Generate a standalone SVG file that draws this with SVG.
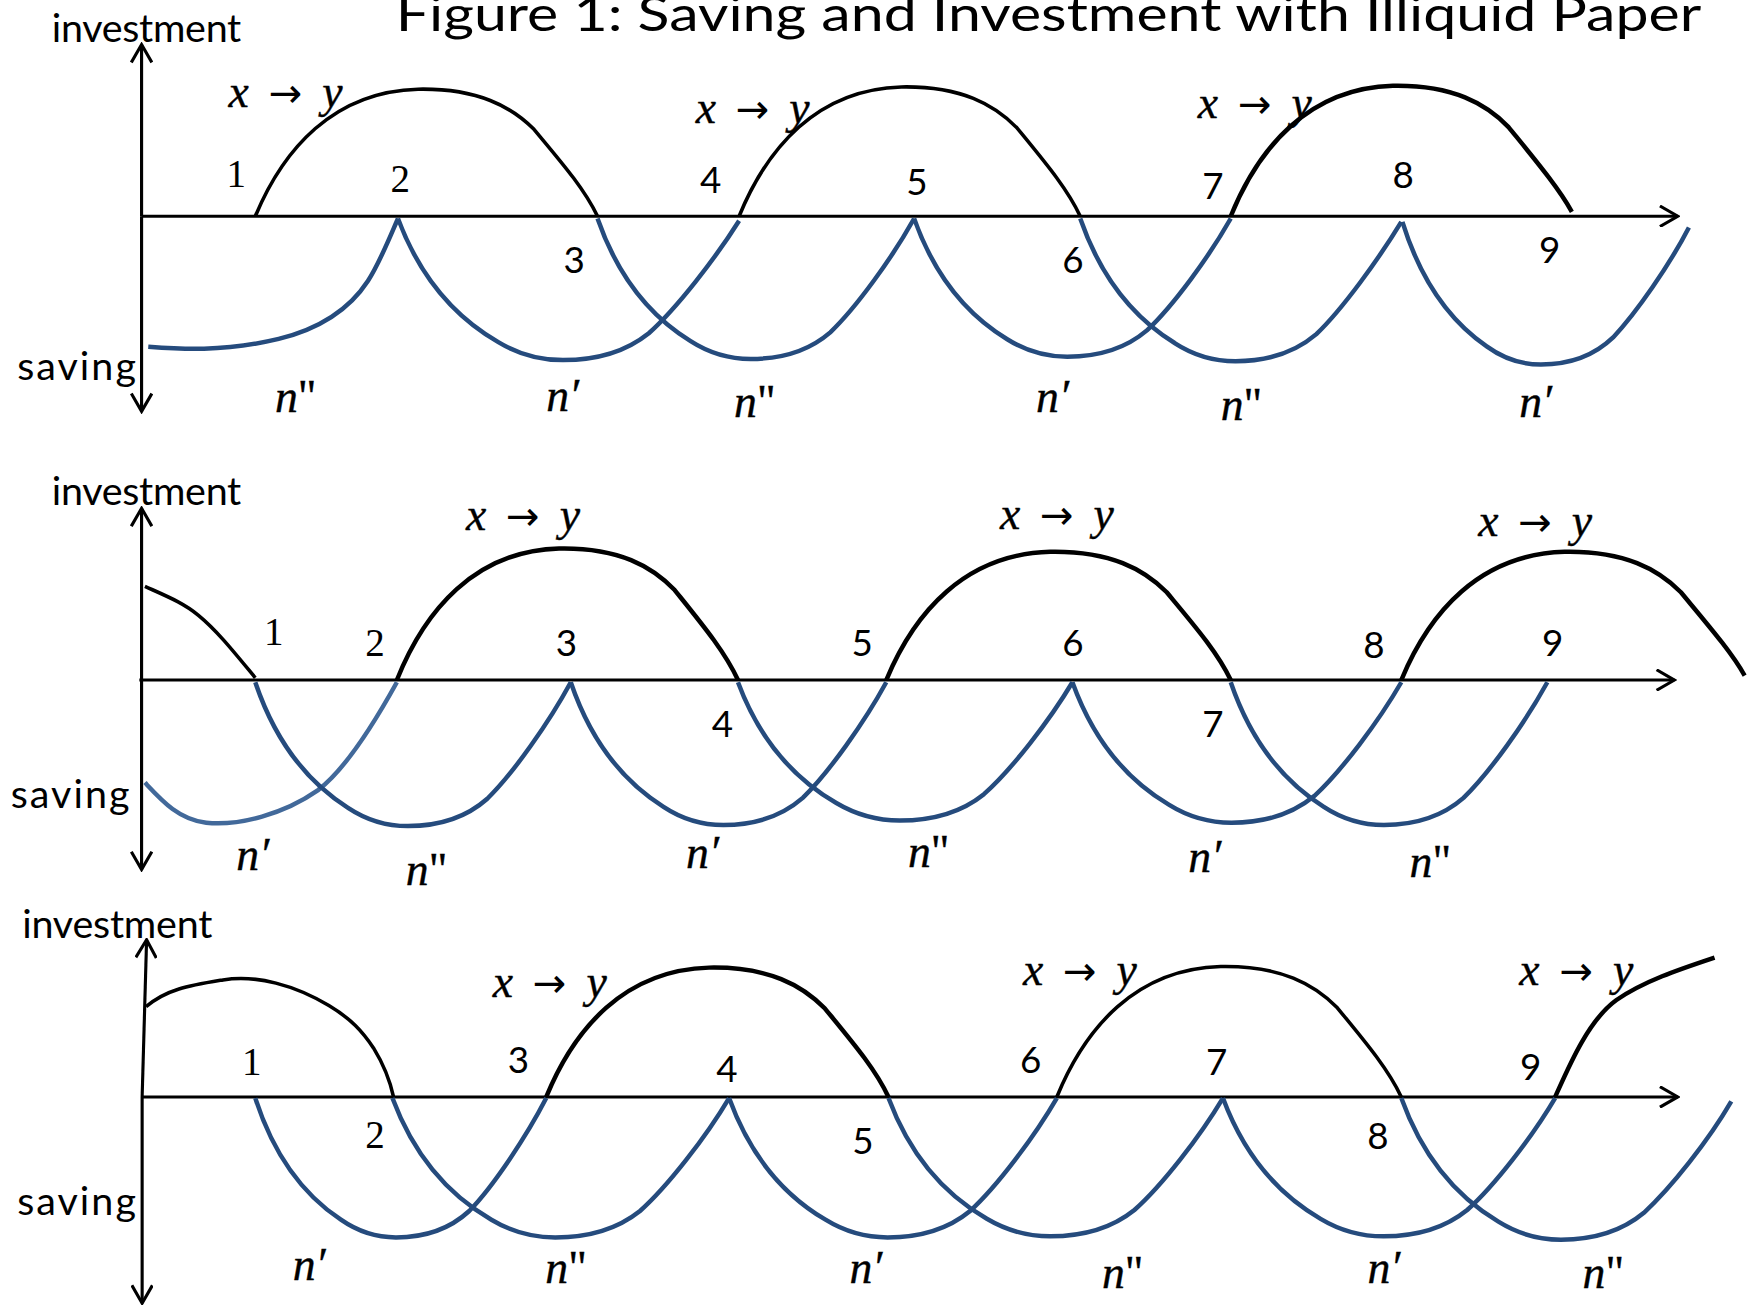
<svg xmlns="http://www.w3.org/2000/svg" width="1748" height="1311" viewBox="0 0 1748 1311">
<defs>
<style>
.ax{fill:none;stroke:#000;stroke-width:2.8}
.inv{fill:none;stroke:#000;stroke-width:3.2}
.thick{stroke-width:4}
.sav{fill:none;stroke:#254b7d;stroke-width:4}
.light{stroke:#42699a}
.lbl{font-family:Lato,"Liberation Sans",sans-serif;font-size:35.4px;fill:#000}
.title{font-family:Lato,"Liberation Sans",sans-serif;font-size:44px;fill:#000}
.num{font-family:Lato,"Liberation Sans",sans-serif;font-size:33px;text-anchor:middle;fill:#000}
.nums{font-family:"Liberation Serif",serif;font-size:35px;text-anchor:middle;fill:#000}
.math{font-family:"Liberation Serif","DejaVu Serif",serif;font-style:italic;font-size:41px;fill:#000;stroke:#000;stroke-width:0.35}
.up{font-style:normal}
.arr{font-family:"DejaVu Sans",sans-serif;font-style:normal;font-size:36px;stroke-width:0}
</style>
<marker id="oa" viewBox="0 0 20 20" refX="18" refY="10" markerWidth="20" markerHeight="20" markerUnits="userSpaceOnUse" orient="auto">
<path d="M2,0.8 L18,10 L2,19.2" fill="none" stroke="#000" stroke-width="2.8"/>
</marker>
</defs>
<rect width="1748" height="1311" fill="#fff"/>
<g transform="scale(1.114796)">
<text id="title" class="title" x="355" y="28" textLength="1171" lengthAdjust="spacingAndGlyphs">Figure 1: Saving and Investment with Illiquid Paper</text>

<!-- Panel 1 -->
<g id="panel1">
<g id="p1-axes">
<line class="ax" x1="127" y1="194" x2="127" y2="40" marker-end="url(#oa)"/>
<line class="ax" x1="127" y1="194" x2="127" y2="369" marker-end="url(#oa)"/>
<line class="ax" x1="127" y1="194" x2="1505" y2="194" marker-end="url(#oa)"/>
</g>
<g id="p1-curves">
<path class="sav" d="M133,311 C160,313 200,316 250,304 C290,294 315,275 330,252 C340,237 350,212 357,196"/>
<path class="sav" d="M357,196 C375,244.4 405,282.7 447,306.9 C467,318.9 487,323 505,323 C537,323 562,315 582,298.9 C607,276.6 642,231.3 663,198"/>
<path class="sav" d="M536,196 C552.7,244 580.6,282.1 619.5,306 C638.1,318 656.6,322 673.4,322 C703,322 726.3,314.1 744.8,298.1 C768,276 800.5,231 820,196"/>
<path class="sav" d="M820,196 C836.7,243.2 864.6,280.7 903.5,304.3 C922.1,316 940.6,320 957.4,320 C987,320 1010.3,312.2 1028.8,296.4 C1052,274.7 1084.5,230.5 1104,196"/>
<path class="sav" d="M969,196 C985.9,244.8 1014.2,283.4 1053.7,307.7 C1072.5,319.9 1091.3,324 1108.3,324 C1138.4,324 1161.9,315.9 1180.8,299.7 C1204.3,277.3 1237.2,231.6 1257,199"/>
<path class="sav" d="M1258,199 C1273.1,247.8 1298.3,286.4 1333.6,310.7 C1350.4,322.9 1367.2,327 1382.3,327 C1409.2,327 1430.2,318.9 1447,302.7 C1468,280.3 1497.4,238 1515,204"/>
<path class="inv" d="M229,194 C254,134 299,82 375,80 C429,79 459,96 479,116 C504,146 524,169 536,194"/>
<path class="inv" d="M663,194 C687.9,133 732.8,80.1 808.5,78 C862.4,77 892.3,94.2 912.2,114.7 C937.1,145.2 957,168.6 969,194"/>
<path class="inv thick" d="M1104,194 C1128.9,132.5 1173.8,79.1 1249.5,77 C1303.4,76 1333.3,93.4 1353.2,114 C1378.1,144.7 1398,168.4 1410,190"/>
</g>
<g id="p1-labels">
<text class="lbl" x="46.4" y="37.4" textLength="170">investment</text>
<text class="lbl" x="15.4" y="340.9" textLength="106.5">saving</text>
<text class="math" x="205" y="96.3">x<tspan class="arr" x="241">→</tspan><tspan x="289">y</tspan></text>
<text class="math" x="624" y="110.6">x<tspan class="arr" x="660">→</tspan><tspan x="708">y</tspan></text>
<text class="math" x="1074.5" y="106">x<tspan class="arr" x="1110.5">→</tspan><tspan x="1158.5">y</tspan></text>
<text class="nums" x="212" y="168">1</text>
<text class="nums" x="359" y="172">2</text>
<text class="num" x="515" y="245">3</text>
<text class="num" x="637.5" y="173.5">4</text>
<text class="num" x="822.5" y="175">5</text>
<text class="num" x="962.5" y="244.6">6</text>
<text class="num" x="1088" y="178.8">7</text>
<text class="num" x="1258.7" y="169">8</text>
<text class="num" x="1390" y="236">9</text>
<text class="math" x="246.7" y="369.3">n<tspan class="up">"</tspan></text>
<text class="math" x="490" y="369">n′</text>
<text class="math" x="658.5" y="373.8">n<tspan class="up">"</tspan></text>
<text class="math" x="929.4" y="369.3">n′</text>
<text class="math" x="1095" y="376.7">n<tspan class="up">"</tspan></text>
<text class="math" x="1362.8" y="373.8">n′</text>
</g>
</g>

<!-- Panel 2 -->
<g id="panel2">
<g id="p2-axes">
<line class="ax" x1="127" y1="610" x2="127" y2="456" marker-end="url(#oa)"/>
<line class="ax" x1="127" y1="610" x2="127" y2="780" marker-end="url(#oa)"/>
<line class="ax" x1="125" y1="610" x2="1502" y2="610" marker-end="url(#oa)"/>
</g>
<g id="p2-curves">
<path class="sav light" d="M130,702 C145,718 160,735 185,738 C215,741 255,730 285,709 C310,690 335,650 356,612"/>
<path class="sav" d="M229,612 C245.6,661.1 273.4,700.1 312.2,724.6 C330.7,736.9 349.2,741 365.9,741 C395.5,741 418.6,732.9 437.1,716.5 C460.2,693.9 492.6,647.9 512,612"/>
<path class="sav" d="M512,612 C528.6,660.8 556.4,699.4 595.2,723.7 C613.7,735.9 632.2,740 648.9,740 C678.5,740 701.6,731.9 720.1,715.7 C743.2,693.3 775.6,647.6 795,612"/>
<path class="sav" d="M662,612 C679.6,659.2 709.1,696.7 750.2,720.3 C769.9,732 789.4,736 807.1,736 C838.5,736 863,728.2 882.6,712.4 C907.1,690.7 941.4,646.5 962,612"/>
<path class="sav" d="M962,612 C979.3,660 1008.3,698.1 1048.8,722 C1068.1,734 1087.3,738 1104.7,738 C1135.5,738 1159.6,730.1 1178.9,714.1 C1203,692 1236.8,647 1257,612"/>
<path class="sav" d="M1104,612 C1120.7,660.8 1148.6,699.4 1187.5,723.7 C1206.1,735.9 1224.6,740 1241.4,740 C1271,740 1294.3,731.9 1312.8,715.7 C1336,693.3 1368.5,647.6 1388,612"/>
<path class="inv" d="M130,526 C150,535 165,541 178,552 C195,566 210,585 229,608"/>
<path class="inv thick" d="M356,610 C380.9,547.9 425.8,494.1 501.5,492 C555.4,490.9 585.3,508.5 605.2,529.3 C630.1,560.3 650,584.2 662,610"/>
<path class="inv thick" d="M795,610 C820.2,549.5 865.5,497.1 942,495 C996.3,494 1026.5,511.1 1046.6,531.3 C1071.8,561.6 1091.9,584.8 1104,610"/>
<path class="inv thick" d="M1257,610 C1282.1,549.5 1327.2,497.1 1403.5,495 C1457.7,494 1487.8,511.1 1507.8,531.3 C1532.9,561.6 1553,584.8 1565,606"/>
</g>
<g id="p2-labels">
<text class="lbl" x="46.4" y="453" textLength="170">investment</text>
<text class="lbl" x="9.6" y="725" textLength="106.5">saving</text>
<text class="math" x="418" y="475.4">x<tspan class="arr" x="454">→</tspan><tspan x="502">y</tspan></text>
<text class="math" x="897" y="474.8">x<tspan class="arr" x="933">→</tspan><tspan x="981">y</tspan></text>
<text class="math" x="1326" y="480.8">x<tspan class="arr" x="1362">→</tspan><tspan x="1410">y</tspan></text>
<text class="nums" x="245.6" y="578.6">1</text>
<text class="nums" x="336.4" y="588.5">2</text>
<text class="num" x="508" y="588.5">3</text>
<text class="num" x="648" y="660.8">4</text>
<text class="num" x="773.4" y="588.5">5</text>
<text class="num" x="962.5" y="588.5">6</text>
<text class="num" x="1088" y="660.8">7</text>
<text class="num" x="1232.4" y="590.5">8</text>
<text class="num" x="1392.8" y="588.5">9</text>
<text class="math" x="212" y="780.4">n′</text>
<text class="math" x="364" y="793.9">n<tspan class="up">"</tspan></text>
<text class="math" x="615.4" y="779">n′</text>
<text class="math" x="814.5" y="777.4">n<tspan class="up">"</tspan></text>
<text class="math" x="1066" y="782">n′</text>
<text class="math" x="1264.4" y="786.4">n<tspan class="up">"</tspan></text>
</g>
</g>

<!-- Panel 3 -->
<g id="panel3">
<g id="p3-axes">
<line class="ax" x1="127.5" y1="984" x2="131.5" y2="843" marker-end="url(#oa)"/>
<line class="ax" x1="127.5" y1="984" x2="127.5" y2="1169" marker-end="url(#oa)"/>
<line class="ax" x1="127.5" y1="984" x2="1505" y2="984" marker-end="url(#oa)"/>
</g>
<g id="p3-curves">
<path class="sav" d="M229,985 C244.3,1032.6 270,1070.4 305.8,1094.1 C322.8,1106 339.9,1110 355.2,1110 C382.5,1110 403.8,1102.1 420.9,1086.3 C442.2,1064.4 472.1,1019.8 490,985"/>
<path class="sav" d="M352,985 C369.8,1032.6 399.4,1070.4 440.8,1094.1 C460.6,1106 480.3,1110 498.1,1110 C529.6,1110 554.3,1102.1 574.1,1086.3 C598.7,1064.4 633.3,1019.8 654,985"/>
<path class="sav" d="M654,985 C671.3,1032.6 700.1,1070.4 740.5,1094.1 C759.7,1106 778.9,1110 796.2,1110 C826.9,1110 851,1102.1 870.2,1086.3 C894.2,1064.4 927.8,1019.8 948,985"/>
<path class="sav" d="M797,985 C814.6,1032.2 844.1,1069.7 885.2,1093.3 C904.9,1105 924.4,1109 942.1,1109 C973.5,1109 998,1101.2 1017.6,1085.4 C1042.1,1063.7 1076.4,1019.5 1097,985"/>
<path class="sav" d="M1097,985 C1114.5,1032.2 1143.8,1069.7 1184.6,1093.3 C1204.1,1105 1223.6,1109 1241.1,1109 C1272.3,1109 1296.6,1101.2 1316.1,1085.4 C1340.5,1063.7 1374.6,1019.5 1395,985"/>
<path class="sav" d="M1257,985 C1274.4,1033.4 1303.4,1071.7 1344.1,1095.9 C1363.4,1107.9 1382.7,1112 1400.2,1112 C1431.1,1112 1455.3,1104 1474.6,1087.9 C1498.8,1065.6 1532.7,1023 1553,988"/>
<path class="inv" d="M131,903 C150,887 170,884 200,879 C230,874 265,884 295,902 C315,914 325,925 335,940 C343,953 350,970 353,984"/>
<path class="inv thick" d="M490,984 C515,923 560,870.1 636,868 C690,867 720,884.2 740,904.7 C765,935.2 785,958.6 797,984"/>
<path class="inv" d="M948,984 C973.2,922.5 1018.5,869.1 1095,867 C1149.3,866 1179.5,883.4 1199.6,904 C1224.8,934.7 1244.9,958.4 1257,984"/>
<path class="inv thick" d="M1395,984 C1408,955 1425,915 1450,897 C1475,880 1505,870 1538,859"/>
</g>
<g id="p3-labels">
<text class="lbl" x="19.9" y="841.7" textLength="170.6">investment</text>
<text class="lbl" x="15.4" y="1090" textLength="106.5">saving</text>
<text class="math" x="442" y="894">x<tspan class="arr" x="478">→</tspan><tspan x="526">y</tspan></text>
<text class="math" x="917.6" y="883.6">x<tspan class="arr" x="953.6">→</tspan><tspan x="1001.6">y</tspan></text>
<text class="math" x="1362.8" y="883.6">x<tspan class="arr" x="1398.8">→</tspan><tspan x="1446.8">y</tspan></text>
<text class="nums" x="225.8" y="964.3">1</text>
<text class="nums" x="336.4" y="1030">2</text>
<text class="num" x="465" y="962.8">3</text>
<text class="num" x="652" y="970.3">4</text>
<text class="num" x="774" y="1035.2">5</text>
<text class="num" x="924.5" y="962.2">6</text>
<text class="num" x="1091.4" y="964.3">7</text>
<text class="num" x="1236" y="1031">8</text>
<text class="num" x="1373" y="968.8">9</text>
<text class="math" x="262.6" y="1148">n′</text>
<text class="math" x="489.2" y="1151">n<tspan class="up">"</tspan></text>
<text class="math" x="762" y="1150.6">n′</text>
<text class="math" x="988.5" y="1155.7">n<tspan class="up">"</tspan></text>
<text class="math" x="1226.6" y="1151">n′</text>
<text class="math" x="1419.6" y="1155.7">n<tspan class="up">"</tspan></text>
</g>
</g>
</g>
</svg>
